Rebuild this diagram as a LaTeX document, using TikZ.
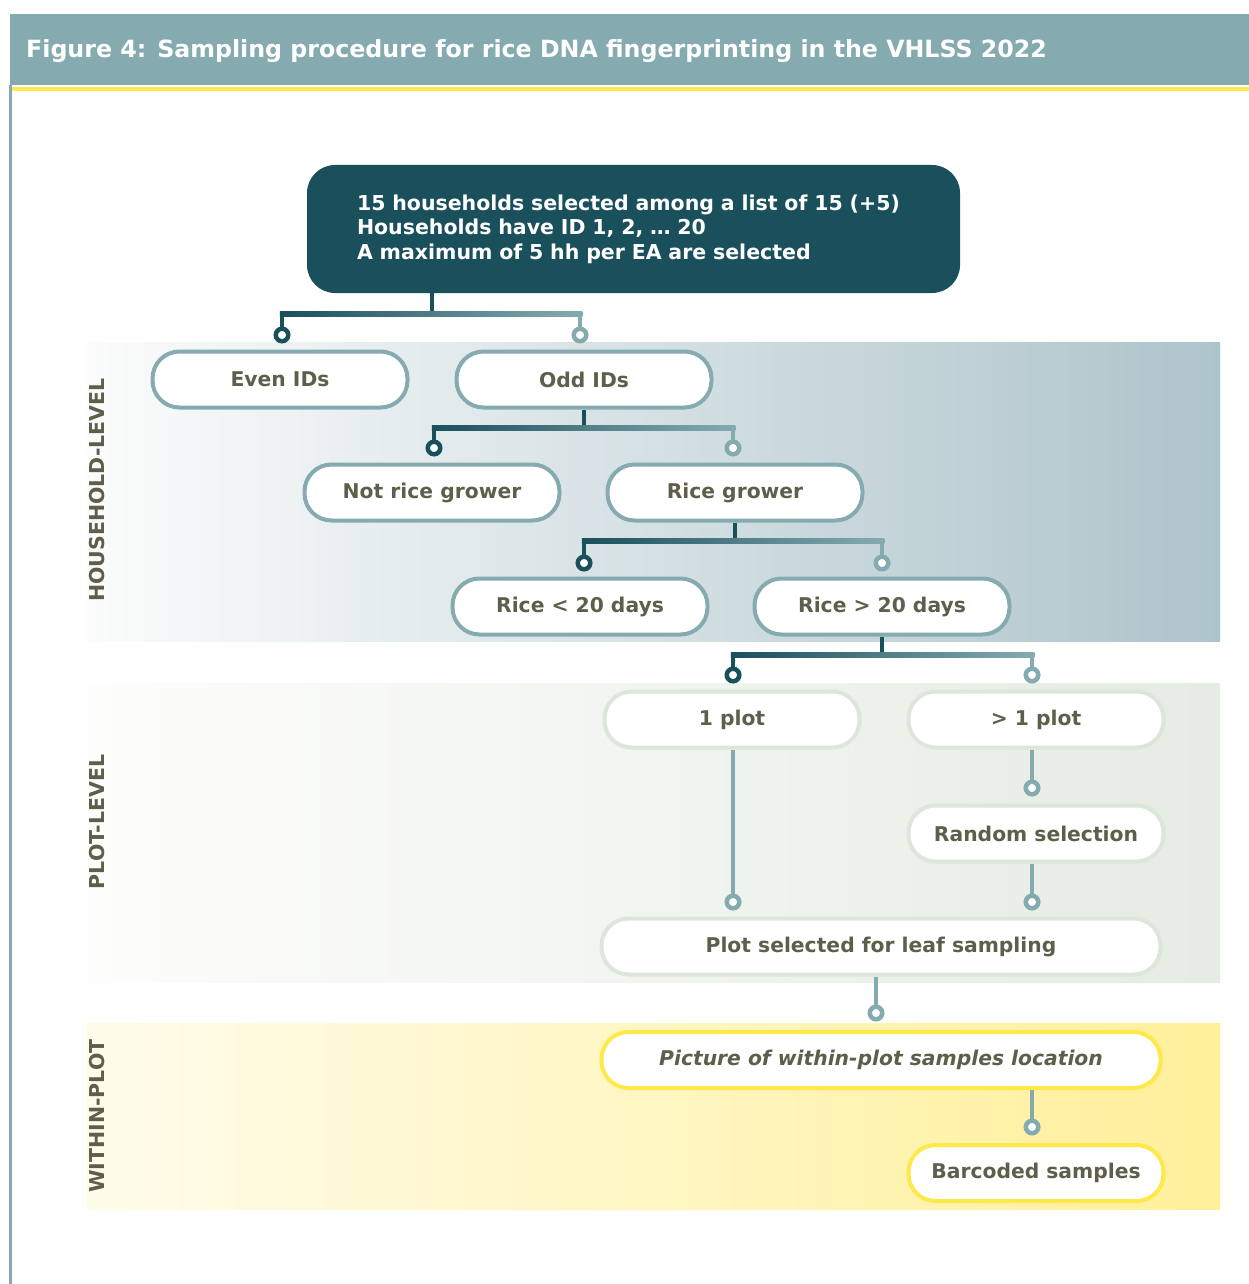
\documentclass[tikz,border=0pt]{standalone}
\usepackage{fontspec}
\setmainfont{DejaVu Sans}
\usetikzlibrary{calc}
\definecolor{dteal}{HTML}{1A4F5C}
\definecolor{lteal}{HTML}{85ABB1}
\definecolor{yel}{HTML}{FFE84A}
\definecolor{gborder}{HTML}{DDE6DA}
\definecolor{textc}{HTML}{5E5E4A}
\definecolor{hhL}{HTML}{FBFCFC}
\definecolor{hhR}{HTML}{AEC4CB}
\definecolor{plL}{HTML}{FDFDFC}
\definecolor{plR}{HTML}{E5ECE3}
\definecolor{wpL}{HTML}{FFFCEA}
\definecolor{wpR}{HTML}{FFF09A}
\newcommand\nodefont{\fontsize{20.3}{24}\selectfont\bfseries}
\newcommand\mkbranch[4]{%
  \path (0,#4) coordinate (barY);
  \draw[cline, dteal] (#1) -- (#1 |- barY);
  \shade[left color=dteal, middle color=dteal!80!lteal, right color=lteal]
    ($(#2 |- barY)+(-2.25,-2.25)$) rectangle ($(#3 |- barY)+(2.25,2.25)$);
  \draw[cline, dteal] (#2 |- barY) -- (#2.north);
  \draw[cline, lteal] (#3 |- barY) -- (#3.north);
}
\begin{document}
\begin{tikzpicture}[x=1pt,y=-1pt,
  pill/.style={rectangle, rounded corners=27pt, minimum width=255pt, minimum height=56pt,
    line width=4pt, fill=white, font=\nodefont, text=textc},
  hh/.style={pill, draw=lteal},
  pl/.style={pill, draw=gborder},
  wp/.style={pill, draw=yel},
  cline/.style={line width=4.5pt},
  ddot/.style={circle, draw=dteal, line width=4.5pt, fill=white, inner sep=0pt, minimum size=12.5pt},
  ldot/.style={circle, draw=lteal, line width=4.5pt, fill=white, inner sep=0pt, minimum size=12.5pt},
  lvl/.style={rotate=90, font=\fontsize{20.5}{24}\selectfont\bfseries, text=textc},
]
\useasboundingbox (0,0) rectangle (1249,1284);
\fill[white] (0,0) rectangle (1249,1284);
% header
\fill[lteal] (10,14) rectangle (1249,85);
\fill[yel] (10,87) rectangle (1249,91);
\fill[lteal] (9,85) rectangle (11.5,1284);
\node[anchor=base west, text=white, font=\fontsize{23.7}{27}\selectfont\bfseries, inner sep=0pt] (title) at (26,58)
  {Figure 4: Sampling procedure for rice DNA fingerprinting in the VHLSS 2022};
% bands
\shade[left color=hhL, right color=hhR] (87,342) rectangle (1220,641);
\shade[left color=plL, right color=plR] (87,683) rectangle (1220,982);
\shade[left color=wpL, right color=wpR] (87,1023) rectangle (1220,1209);
\node[lvl] (lhh) at (97,490) {HOUSEHOLD-LEVEL};
\node[lvl] (lpl) at (97,822) {PLOT-LEVEL};
\node[lvl] (lwp) at (97,1116) {WITHIN-PLOT};
% top node
\node[rectangle, rounded corners=28pt, fill=dteal, minimum width=653pt, minimum height=128pt,
  text width=553pt, align=left, inner xsep=50pt, text=white,
  font=\fontsize{20.5}{24.5}\selectfont\bfseries] (top) at (633.5,229)
  {15 households selected among a list of 15 (+5)\\Households have ID 1, 2, \dots\ 20\\A maximum of 5 hh per EA are selected};
\coordinate (topstem) at ($(top.south west)+(125,0)$);
% household nodes
\node[hh] (even) at (280,379.5) {Even IDs};
\node[hh] (odd) at (584,379.5) {Odd IDs};
\node[hh] (notrice) at (432,492.5) {Not rice grower};
\node[hh] (rice) at (735,492.5) {Rice grower};
\node[hh] (lt20) at (580,606.5) {Rice < 20 days};
\node[hh] (gt20) at (882,606.5) {Rice > 20 days};
% plot nodes
\node[pl] (one) at (732,719.5) {1 plot};
\node[pl] (more) at (1036,719.5) {> 1 plot};
\node[pl] (rand) at (1036,833.5) {Random selection};
\node[pl, minimum width=559pt] (sel) at (881,946.5) {Plot selected for leaf sampling};
% within nodes
\node[wp, minimum width=559pt, font=\nodefont\itshape] (pic) at (881,1060) {Picture of within-plot samples location};
\node[wp] (bar) at (1036,1173) {Barcoded samples};
% dots
\node[ddot] (d1) at (282,335) {};
\node[ldot] (d2) at (580,335) {};
\node[ddot] (d3) at (434,448) {};
\node[ldot] (d4) at (733,448) {};
\node[ddot] (d5) at (584,563) {};
\node[ldot] (d6) at (882,563) {};
\node[ddot] (d7) at (733,675) {};
\node[ldot] (d8) at (1032,675) {};
\node[ldot] (d9) at (1032,788) {};
\node[ldot] (d10) at (733,902) {};
\node[ldot] (d11) at (1032,902) {};
\node[ldot] (d12) at (876,1013) {};
\node[ldot] (d13) at (1032,1127) {};
% branches
\mkbranch{topstem}{d1}{d2}{314}
\mkbranch{odd.south}{d3}{d4}{428}
\mkbranch{rice.south}{d5}{d6}{541}
\mkbranch{gt20.south}{d7}{d8}{655}
% straight connectors
\draw[cline, lteal] (one.south -| d10) -- (d10.north);
\draw[cline, lteal] (more.south -| d9) -- (d9.north);
\draw[cline, lteal] (rand.south -| d11) -- (d11.north);
\draw[cline, lteal] (sel.south -| d12) -- (d12.north);
\draw[cline, lteal] (pic.south -| d13) -- (d13.north);
\end{tikzpicture}
\end{document}
